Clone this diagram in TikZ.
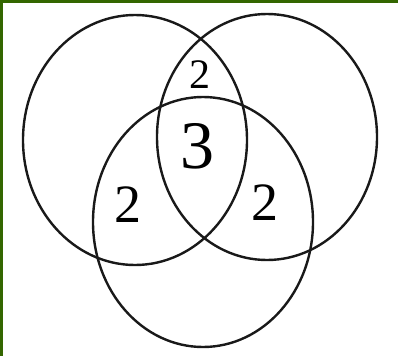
\documentclass[tikz,border=0pt]{standalone}
\usepackage{fontspec}
\setmainfont{Liberation Serif}
\definecolor{frameg}{HTML}{336600}
\begin{document}
\begin{tikzpicture}[x=1pt,y=-1pt,
  ring/.style={draw=black!90,line width=2.4pt},
  num/.style={inner sep=0pt,font=\fontsize{#1}{#1}\selectfont}]
\useasboundingbox (0,0) rectangle (398,356);
\fill[white] (0,0) rectangle (398,356);
\fill[frameg] (0,0) rectangle (398,2.5);
\fill[frameg] (0,0) rectangle (2.5,356);
\draw[ring] (135,140) ellipse [x radius=112, y radius=125];
\draw[ring] (267,137) ellipse [x radius=110, y radius=123];
\draw[ring] (203,222) ellipse [x radius=110, y radius=125];
\node[num=42] (t) at (200,75) {2};
\node[num=68] (c) at (197,146) {3};
\node[num=54] (l) at (128,205) {2};
\node[num=54] (r) at (265,203) {2};
\end{tikzpicture}
\end{document}
